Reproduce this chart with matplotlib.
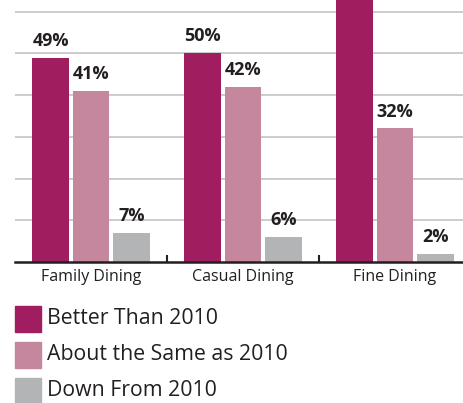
import matplotlib
matplotlib.use("Agg")
import matplotlib.pyplot as plt
from matplotlib.patches import Rectangle
import numpy as np

plt.rcParams['font.family'] = ['Open Sans', 'DejaVu Sans']

categories = ["Family Dining", "Casual Dining", "Fine Dining"]
series_names = ["Better Than 2010", "About the Same as 2010", "Down From 2010"]
better = [49, 50, 66]
same = [41, 42, 32]
down = [7, 6, 2]
series_values = [better, same, down]
colors = ["#A01E5F", "#C4879D", "#B3B4B6"]

W, H = 464, 403
fig = plt.figure(figsize=(W / 100, H / 100), dpi=100)
ax = fig.add_axes([15 / W, (H - 262) / H, (W - 15) / W, 262 / H])

x = np.arange(len(categories))
step = 0.265
width = 0.243
for i, (vals, col) in enumerate(zip(series_values, colors)):
    pos = x + (i - 1) * step
    bars = ax.bar(pos, vals, width=width, color=col, zorder=3)
    for b, v in zip(bars, vals):
        ax.annotate(f"{v}%", (b.get_x() + b.get_width() / 2, v),
                    xytext=(0, 8.6), textcoords="offset points",
                    ha="center", va="baseline", fontsize=13, fontweight="bold",
                    color="#231F20", annotation_clip=True, clip_on=True)

ax.set_xlim(-0.5, (W - 91) / 152)
ax.set_ylim(0, 62.8)
ax.set_yticks([10, 20, 30, 40, 50, 60])
ax.yaxis.grid(True, color="#C8C8CA", linewidth=1.3, zorder=0)
ax.tick_params(axis="y", length=0, labelleft=False)
ax.set_xticks(x)
ax.set_xticklabels(categories, fontsize=11.5, color="#231F20")
ax.tick_params(axis="x", length=0, pad=5)
ax.set_xticks([0.5, 1.5], minor=True)
ax.tick_params(axis="x", which="minor", direction="in", length=5, width=1.5, color="#231F20")
for s in ["top", "right", "left"]:
    ax.spines[s].set_visible(False)
ax.spines["bottom"].set_color("#231F20")
ax.spines["bottom"].set_linewidth(1.8)
ax.spines["bottom"].set_zorder(4)

# legend
for i, (name, col) in enumerate(zip(series_names, colors)):
    top = 306 + i * 36
    fig.patches.append(Rectangle((15 / W, 1 - (top + 26) / H), 26 / W, 26 / H,
                                 transform=fig.transFigure, color=col))
    fig.text(47 / W, 1 - (top + 13) / H, name, fontsize=15.3, color="#231F20",
             va="center", ha="left")

fig.savefig("out.png", dpi=100)
